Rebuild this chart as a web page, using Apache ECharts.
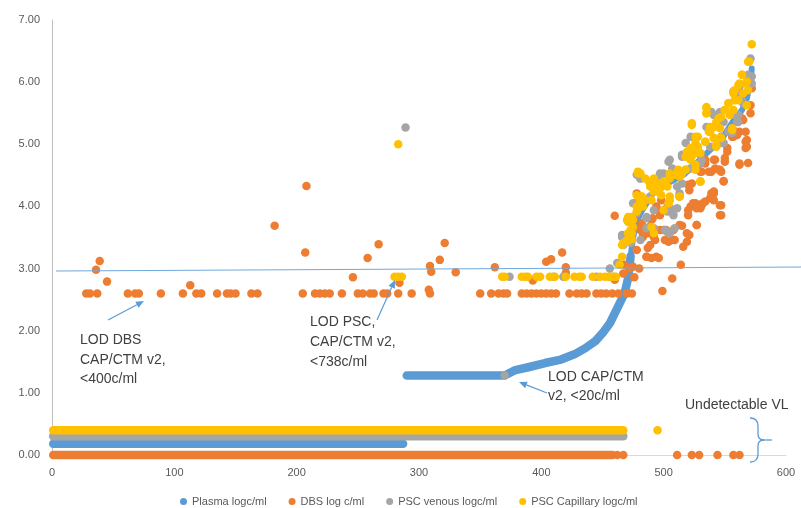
<!DOCTYPE html>
<html><head><meta charset="utf-8">
<script src="https://cdn.jsdelivr.net/npm/echarts@6/dist/echarts.min.js"></script>
<style>html,body{margin:0;padding:0;background:#fff}#c{width:801px;height:508px}</style>
</head><body><div id="c"></div>
<script>
// ---- data ----
const xTicks = [0,100,200,300,400,500,600];
const yTicks = [0,1,2,3,4,5,6,7];
const seriesNames = ['Plasma logc/ml','DBS log c/ml','PSC venous logc/ml','PSC Capillary logc/ml'];

// undetectable runs (consecutive points forming solid bands): [xStart,y],[xEnd,y]
const plasmaUndetected = [[1,0.18],[287,0.18]];
const dbsUndetected = [[1,0],[458,0]];
const venousUndetected = [[1,0.30],[467,0.30]];
const capillaryUndetected = [[1,0.40],[467,0.40]];

// plasma detectable (dense sorted run), lower part and part inside the cloud
const plasmaCurveLow = [[290,1.28],[370,1.28],[378,1.36],[391,1.42],[403,1.48],[415,1.53],[427,1.62],[436,1.72],[444,1.83],[450,1.96],[456,2.12],[460,2.28],[464,2.44],[468,2.6],[471,2.85],[473,3.2]];
const plasmaCurveHigh = [[473,3.2],[475,3.5],[478,3.75],[481,3.89],[491,4.21],[504,4.38],[517,4.52],[528,4.72],[538,4.91],[548,5.1],[556,5.35],[564,5.55],[568,5.74],[571,6.0],[572,6.22]];

const dbsPoints = [
 [462,0],[467,0],[511,0],[523,0],[529,0],[544,0],[557,0],[562,0],
 [28,2.6],[31,2.6],[37,2.6],[62,2.6],[68,2.6],[71,2.6],[89,2.6],[107,2.6],[118,2.6],[122,2.6],[135,2.6],[143,2.6],[146,2.6],[150,2.6],[163,2.6],[168,2.6],
 [205,2.6],[215,2.6],[219,2.6],[223,2.6],[227,2.6],[237,2.6],[250,2.6],[254,2.6],[260,2.6],[263,2.6],[271,2.6],[274,2.6],[283,2.6],[294,2.6],[309,2.6],
 [350,2.6],[359,2.6],[365,2.6],[369,2.6],[372,2.6],[384,2.6],[388,2.6],[392,2.6],[396,2.6],[400,2.6],[404,2.6],[408,2.6],[412,2.6],[423,2.6],[429,2.6],[433,2.6],[437,2.6],[445,2.6],[449,2.6],[453,2.6],[458,2.6],[463,2.6],[470,2.6],[474,2.6],
 [36,2.98],[39,3.12],[45,2.79],[113,2.73],[182,3.69],[208,4.33],[207,3.26],[246,2.86],[258,3.17],[267,3.39],[284,2.77],[308,2.66],[309,3.04],[310,2.95],[317,3.14],[321,3.41],[330,2.94],[362,3.02],[393,2.81],[404,3.11],[408,3.15],[417,3.26],[420,3.02],[420,2.93],[476,2.86],[480,3.0],[486,3.19],[494,3.19],[499,2.64],[507,2.84],[514,3.06],
 [460,3.85],[478,4.21],[478,3.30],[481,3.62],[483,3.51],[487,3.33],[486,3.19],[490,3.17],[496,3.17],[493,3.46],[494,3.97],[498,4.10],[501,3.46],[502,3.62],[507,3.46],[508,3.62],[509,3.46],[515,3.69],[516,3.35],[521,3.54],[520,3.94],[524,4.05],[527,3.70],[530,3.97],[534,4.08],[541,4.21],[541,4.10],[546,3.86],[547,4.02],[549,4.41],[542,4.61],[547,4.56],[550,4.72],[562,4.67],[569,4.70],[528,4.59],[534,4.75],[542,4.75],[523,4.37],[513,4.16],[505,3.97],[500,3.94],[490,3.78],[468,3.06],[475,3.03],[472,3.00],[467,2.92],[460,2.82],[491,3.81],[500,3.62],[521,4.26],[531,4.02],[539,4.21],[531,4.56],[539,4.56],[546,4.59],[552,4.88],[557,5.12],[562,5.20],[568,5.07],[568,4.96],[571,5.50],[571,5.63],[572,5.90],[564,5.42],[557,5.23],[487,3.57],
 [565,5.39],[567,5.20],[560,5.15],[567,5.04],[567,4.94],[556,5.12],[552,4.94],[550,4.78],[562,4.69],[541,4.75],[534,4.69],[537,4.56],[545,4.59],[549,4.40],[530,4.56],[520,4.35],[541,4.24],[538,4.13],[532,4.05],[526,4.05],[527,3.97],[522,4.00],[546,4.02],[547,3.86],[527,3.70],[520,3.86],[513,3.70],[519,3.57],[504,3.43],[494,4.00],[497,3.86],[482,3.73],[483,3.57],[492,3.51],[497,3.62],[489,3.38],[519,3.43]
];

const venousPoints = [
 [289,5.27],[370,1.28],
 [374,2.87],[410,2.87],[418,2.87],[445,2.87],[456,2.87],[459,2.87],
 [466,3.51],[481,4.05],[486,3.81],[481,4.45],[500,4.53],[504,4.72],[501,3.62],[503,4.00],[511,3.97],[515,4.83],[522,5.12],[524,4.88],[531,4.75],[535,5.28],[541,5.47],[546,5.52],[547,5.12],[557,5.85],[561,5.47],[569,6.09],[571,6.38],[562,5.93],[556,5.18],[538,4.96],[530,4.69],[522,4.61],[505,3.57],[478,3.89],[456,3.00],[467,3.38],[475,4.05],[478,4.51],[492,3.65],[496,4.43],[507,3.94],[513,4.21],[518,4.59],[527,4.67],[488,3.67],[473,3.41],[462,3.09],[530,4.83],[569,6.12],[497,4.53],[543,5.07],[549,5.02],[560,5.36],[565,5.66],[572,5.98],
 [572,6.09],[560,5.82],[564,5.71],[558,5.47],[561,5.36],[549,5.36],[539,5.52],[553,5.20],[547,5.02],[515,4.80],[518,5.02],[505,4.75],[507,4.61],[481,4.45],[497,4.51],[489,4.16],[511,4.32],[515,4.37],[477,4.05],[479,3.94],[492,3.94],[486,3.83],[503,3.92],[508,3.86],[466,3.54],[486,3.65],[503,3.59],[481,3.46],[509,3.65]
];

const capillaryPoints = [
 [495,0.40],[283,5.00],
 [280,2.87],[283,2.87],[286,2.87],[368,2.87],[370,2.87],[384,2.87],[387,2.87],[389,2.87],[396,2.87],[399,2.87],[407,2.87],[411,2.87],[420,2.87],[427,2.87],[431,2.87],[433,2.87],[442,2.87],[448,2.87],[452,2.87],[455,2.87],[458,2.87],[461,2.87],
 [572,6.61],[570,6.33],[564,6.12],[562,5.98],[568,6.01],[569,5.87],[557,5.82],[561,5.71],[553,5.66],[568,5.63],[550,5.55],[554,5.47],[535,5.58],[535,5.50],[545,5.42],[541,5.28],[537,5.20],[556,5.26],[523,5.31],[547,5.10],[541,5.10],[526,5.12],[534,5.04],[528,4.96],[543,4.96],[519,4.88],[524,4.83],[522,4.75],[518,4.80],[526,4.67],[530,4.40],[505,4.53],[512,4.59],[509,4.51],[513,4.48],[500,4.40],[494,4.37],[503,4.32],[497,4.29],[492,4.24],[488,4.40],[479,4.53],[485,4.10],[490,4.10],[482,4.16],[478,4.18],[479,3.97],[475,3.78],[471,3.83],[473,3.62],[470,3.46],[466,3.38],[492,3.57],[504,4.05],[513,4.16],
 [479,4.56],[470,3.43],[474,3.57],[471,3.75],[478,3.92],[481,4.10],[490,4.32],[500,3.94],[505,4.10],[530,4.40],[466,3.19],[464,3.06],[474,3.47],
 [569,6.33],[564,6.12],[561,5.95],[567,5.98],[558,5.87],[565,5.82],[553,5.66],[558,5.71],[557,5.55],[550,5.55],[547,5.44],[535,5.60],[535,5.50],[543,5.36],[538,5.28],[546,5.26],[556,5.23],[523,5.34],[538,5.20],[541,5.10],[528,5.12],[526,5.02],[546,5.10],[534,5.04],[543,4.99],[527,4.94],[522,4.94],[524,4.86],[520,4.80],[530,4.86],[526,4.59],[518,4.59],[515,4.53],[509,4.51],[505,4.45],[501,4.40],[497,4.37],[492,4.45],[489,4.32],[494,4.24],[498,4.18],[505,4.16],[481,4.53],[485,4.45],[482,4.16],[481,4.08],[478,4.00],[483,4.00],[474,3.83],[470,3.78],[475,3.67],[471,3.57],[467,3.41],[490,3.67],[530,4.40]
];

const colors = ['#5B9BD5','#ED7D31','#A5A5A5','#FFC000'];

// ---- chart ----
const chart = echarts.init(document.getElementById('c'), null, {renderer:'canvas'});
const SZ = 8.5;
function band(name, data, color, z, w){
  return {name, type:'line', data, symbol:'none', clip:false, silent:true, z,
    lineStyle:{color, width:w||SZ, cap:'round', join:'round'}, itemStyle:{color}};
}
function dots(name, data, color, z){
  return {name, type:'scatter', data, symbolSize:SZ, clip:false, z, itemStyle:{color, opacity:1}};
}
const series = [
  band(seriesNames[0], plasmaUndetected, colors[0], 2),
  band(seriesNames[0], plasmaCurveLow, colors[0], 2),
  band(seriesNames[0], plasmaCurveHigh, colors[0], 2, 6),
  band(seriesNames[1], dbsUndetected, colors[1], 3),
  dots(seriesNames[1], dbsPoints, colors[1], 3),
  band(seriesNames[2], venousUndetected, colors[2], 4),
  dots(seriesNames[2], venousPoints, colors[2], 4),
  band(seriesNames[3], capillaryUndetected, colors[3], 5),
  dots(seriesNames[3], capillaryPoints, colors[3], 5)
];

const textColor = '#404040';
const font = '14px "Liberation Sans", Arial, sans-serif';
const BLUE = '#5B9BD5';
function txt(x,y,s){ return {type:'text', x, y, style:{text:s, font, fill:textColor, textAlign:'left', textVerticalAlign:'middle'}, z:100}; }
function arrow(x1,y1,x2,y2){
  const a = Math.atan2(y2-y1,x2-x1), L=8, W=3.5;
  const bx = x2 - L*Math.cos(a), by = y2 - L*Math.sin(a);
  const px = -Math.sin(a), py = Math.cos(a);
  return [
    {type:'line', shape:{x1,y1,x2:bx,y2:by}, style:{stroke:BLUE, lineWidth:1.2}, z:100},
    {type:'polygon', shape:{points:[[x2,y2],[bx+px*W,by+py*W],[bx-px*W,by-py*W]]}, style:{fill:BLUE}, z:100}
  ];
}
function bz(x1,y1,cx,cy,x2,y2){ return {type:'bezierCurve', shape:{x1,y1,cpx1:cx,cpy1:cy,x2,y2}, style:{stroke:BLUE, lineWidth:1.3, fill:null}, z:100}; }
function ln(x1,y1,x2,y2,w,c){ return {type:'line', shape:{x1,y1,x2,y2}, style:{stroke:c||BLUE, lineWidth:w||1.3}, z:100}; }
const graphics = [
  ln(56,271,801,267,1,'#6FA8DC'),
  txt(80,340,'LOD DBS'), txt(80,360,'CAP/CTM v2,'), txt(80,379,'<400c/ml'),
  txt(310,322,'LOD PSC,'), txt(310,342,'CAP/CTM v2,'), txt(310,362,'<738c/ml'),
  txt(548,377,'LOD CAP/CTM'), txt(548,396,'v2, <20c/ml'),
  txt(685,405,'Undetectable VL'),
  ...arrow(108,320,144,301),
  ...arrow(377,320,395,280),
  ...arrow(547,393,519,382),
  bz(750,418,758,418,758,426), ln(758,426,758,434),
  bz(758,434,758,440,764,440), ln(764,440,772,440),
  bz(764,440,758,440,758,446), ln(758,446,758,454),
  bz(758,454,758,462,750,462)
];

chart.setOption({
  animation:false,
  color: colors,
  grid:{left:52, right:15, top:20, bottom:53, containLabel:false},
  xAxis:{type:'value', min:xTicks[0], max:xTicks[xTicks.length-1], interval:100,
    axisLine:{show:true, lineStyle:{color:'#D9D9D9'}}, axisTick:{show:false}, splitLine:{show:false},
    axisLabel:{color:'#595959', fontSize:11, margin:12, fontFamily:'"Liberation Sans", Arial, sans-serif'}},
  yAxis:{type:'value', min:yTicks[0], max:yTicks[yTicks.length-1], interval:1,
    axisLine:{show:true, lineStyle:{color:'#BFBFBF'}}, axisTick:{show:false}, splitLine:{show:false},
    axisLabel:{color:'#595959', fontSize:11, margin:12, formatter:v=>v.toFixed(2), fontFamily:'"Liberation Sans", Arial, sans-serif'}},
  legend:{bottom:1, left:180, padding:0, itemWidth:7, itemHeight:7, itemGap:22,
    textStyle:{color:'#595959', fontSize:11, fontFamily:'"Liberation Sans", Arial, sans-serif'},
    data: seriesNames.map(n=>({name:n, icon:'circle'}))},
  series,
  graphic: graphics
});
</script></body></html>
